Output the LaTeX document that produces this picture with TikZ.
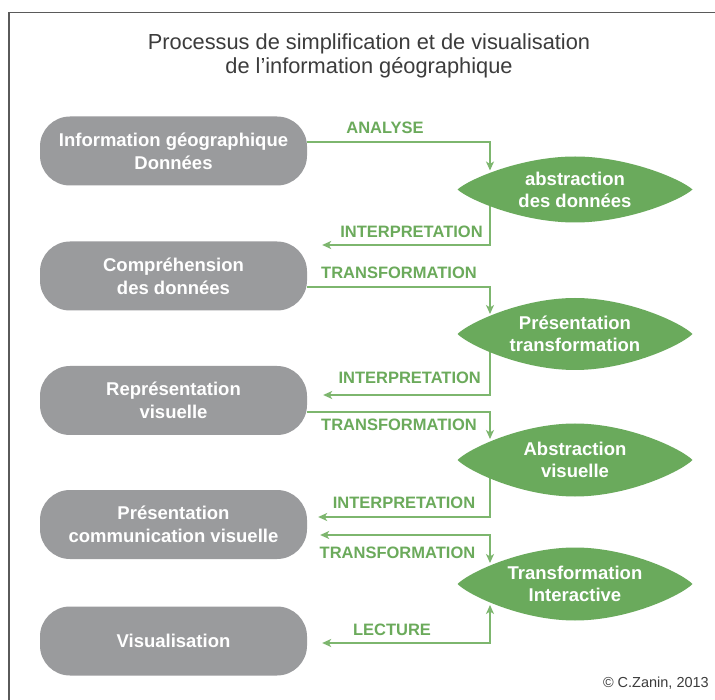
\documentclass[tikz,border=0pt]{standalone}
\usepackage{fontspec}
\setmainfont{Liberation Sans}
\usetikzlibrary{arrows.meta,calc}
\pgfdeclarelayer{bg}
\pgfsetlayers{bg,main}
\definecolor{boxgray}{HTML}{9A9B9D}
\definecolor{lensgreen}{HTML}{6AAA5C}
\definecolor{labgreen}{HTML}{6BAA5B}
\definecolor{linegreen}{HTML}{7DB66E}
\definecolor{titlegray}{HTML}{3C3C3C}
\definecolor{framegray}{HTML}{5A5A5A}
\newcommand{\lensshape}[3]{%
  \fill[lensfill,shift={(#1.center)}] (-#2,0)
    .. controls ({-0.9*#2},{-0.32*#3}) and ({-0.45*#2},{-#3}) .. (0,-#3)
    .. controls ({0.45*#2},{-#3}) and ({0.9*#2},{-0.32*#3}) .. (#2,0)
    .. controls ({0.9*#2},{0.32*#3}) and ({0.45*#2},{#3}) .. (0,#3)
    .. controls ({-0.45*#2},{#3}) and ({-0.9*#2},{0.32*#3}) .. (-#2,0) -- cycle;}
\begin{document}
\begin{tikzpicture}[x=1pt,y=-1pt,
  graybox/.style={fill=boxgray, rounded corners=30pt, minimum width=267pt, minimum height=69pt, inner sep=0pt, align=center, text=white, font=\bfseries\fontsize{18.5}{23}\selectfont},
  lenstext/.style={inner sep=0pt, minimum width=235pt, minimum height=70pt, align=center, text=white, font=\bfseries\fontsize{18.5}{22}\selectfont},
  lab/.style={text=labgreen, font=\bfseries\fontsize{16.5}{18}\selectfont, inner sep=0pt},
  conn/.style={draw=linegreen, line width=1.4pt, -{Stealth[length=9pt,width=8pt,inset=2.5pt]}},
  biconn/.style={draw=linegreen, line width=1.4pt, {Stealth[length=9pt,width=8pt,inset=2.5pt]}-{Stealth[length=9pt,width=8pt,inset=2.5pt]}},
  lensfill/.style={fill=lensgreen},
  titletext/.style={align=center, text=titlegray, font=\fontsize{21.8}{24}\selectfont, inner sep=0pt},
]
\useasboundingbox (0,0) rectangle (715,700);
\begin{pgfonlayer}{bg}
\fill[white] (0,0) rectangle (715,700);
\end{pgfonlayer}
\draw[framegray, line width=1.5pt] (9,700) -- (9,12.5) -- (715,12.5);

\node[titletext] (title) at (369,56) {Processus de simplification et de visualisation\\de l’information géographique};

\node[graybox] (g1) at (173.5,151) {Information géographique\\Données};
\node[graybox] (g2) at (173.5,276) {Compréhension\\des données};
\node[graybox] (g3) at (173.5,400.5) {Représentation\\visuelle};
\node[graybox] (g4) at (173.5,524.5) {Présentation\\communication visuelle};
\node[graybox] (g5) at (173.5,641) {Visualisation};

\node[lenstext] (e1) at (575,189.5) {abstraction\\des données};
\node[lenstext] (e2) at (575,334) {Présentation\\transformation};
\node[lenstext] (e3) at (575,460) {Abstraction\\visuelle};
\node[lenstext] (e4) at (575,584) {Transformation\\Interactive};

\begin{pgfonlayer}{bg}
\draw[conn] ([yshift=9pt]g1.east) -| ([xshift=-85pt,yshift=19pt]e1.center);
\draw[conn] ([xshift=-85pt,yshift=-12pt]e1.center) |- ([xshift=15pt,yshift=31pt]g2.east);
\draw[conn] ([yshift=-11pt]g2.east) -| ([xshift=-85pt,yshift=20pt]e2.center);
\draw[conn] ([xshift=-85pt,yshift=-12pt]e2.center) |- ([xshift=16pt,yshift=5.5pt]g3.east);
\draw[conn] ([yshift=-11.5pt]g3.east) -| ([xshift=-85pt,yshift=21pt]e3.center);
\draw[conn] ([xshift=-85pt,yshift=-12pt]e3.center) |- ([xshift=11pt,yshift=7.5pt]g4.east);
\draw[biconn] ([xshift=13pt,yshift=-10.5pt]g4.east) -| ([xshift=-85pt,yshift=21pt]e4.center);
\draw[biconn] ([xshift=-85pt,yshift=-21pt]e4.center) |- ([xshift=15pt,yshift=-2pt]g5.east);
\lensshape{e1}{117.5}{33}
\lensshape{e2}{117.5}{36}
\lensshape{e3}{117.5}{36.5}
\lensshape{e4}{117.5}{36.5}
\end{pgfonlayer}

\node[lab] (l1) at (385,128) {ANALYSE};
\node[lab] (l2) at (411.5,231.7) {INTERPRETATION};
\node[lab] (l3) at (399,272.7) {TRANSFORMATION};
\node[lab] (l4) at (409.7,378.3) {INTERPRETATION};
\node[lab] (l5) at (399,425) {TRANSFORMATION};
\node[lab] (l6) at (404,502.7) {INTERPRETATION};
\node[lab] (l7) at (397.5,553.3) {TRANSFORMATION};
\node[lab] (l8) at (392,630) {LECTURE};

\node[anchor=east, inner sep=0pt, text=titlegray, font=\fontsize{14.5}{16}\selectfont] (copy) at (709,683) {© C.Zanin, 2013};
\end{tikzpicture}
\end{document}
